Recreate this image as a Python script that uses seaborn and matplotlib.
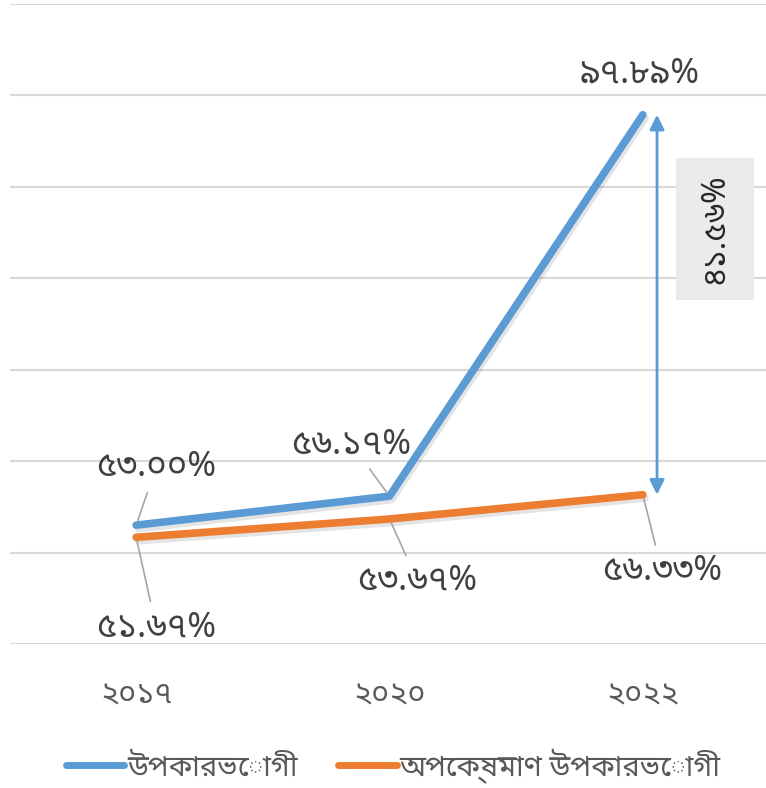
import matplotlib
matplotlib.use("Agg")
import matplotlib.pyplot as plt
import matplotlib.patheffects as pe
from matplotlib.patches import Rectangle
import pandas as pd
import seaborn as sns

# ---- data ----
years = ["২০১৭", "২০২০", "২০২২"]
series_names = ["উপকারভোগী", "অপেক্ষমাণ উপকারভোগী"]
beneficiaries = [53.00, 56.17, 97.89]
waiting = [51.67, 53.67, 56.33]

colors = ["#5b9bd5", "#ed7d31"]

BN_DIGITS = str.maketrans("0123456789", "০১২৩৪৫৬৭৮৯")


def bn_pct(v):
    return f"{v:.2f}".translate(BN_DIGITS) + "%"


df = pd.DataFrame({
    "pos": list(range(len(years))) * 2,
    "value": beneficiaries + waiting,
    "series": [series_names[0]] * len(years) + [series_names[1]] * len(years),
})

sns.set_theme(style="white")
FONT = ["Noto Sans Bengali", "DejaVu Sans"]
plt.rcParams["font.family"] = FONT

fig = plt.figure(figsize=(7.66, 7.88), dpi=100)
ax = fig.add_axes([9.5 / 766, 1 - 644 / 788, 760 / 766, 640 / 788])

shadow = [pe.SimpleLineShadow(offset=(1.5, -2.5), alpha=0.13, shadow_color="#333333"),
          pe.Normal()]

sns.lineplot(data=df, x="pos", y="value", hue="series", hue_order=series_names,
             palette=colors, linewidth=5.5, ax=ax, legend=False,
             solid_capstyle="round", path_effects=shadow)

ax.set_xlim(-0.5, 2.5)
ax.set_ylim(40, 110)
ax.set_yticks(range(40, 111, 10))
ax.set_yticklabels([])
ax.tick_params(axis="y", length=0)
ax.grid(axis="y", color="#d9d9d9", linewidth=1.5)
ax.set_axisbelow(True)
for s in ax.spines.values():
    s.set_visible(False)

ax.set_xticks(range(len(years)))
ax.set_xticklabels(years, fontsize=22, color="#595959")
ax.tick_params(axis="x", length=0, pad=26)
ax.set_xlabel("")
ax.set_ylabel("")

# data labels with leader lines (offsets in pixels)
label_style = dict(fontsize=25, color="#404040", ha="center", va="center",
                   textcoords="offset pixels")
leader = dict(arrowstyle="-", color="#a6a6a6", lw=1.2, shrinkA=4, shrinkB=3)

blue_offsets = [(20, 58), (-38, 52), (-3, 41)]
orange_offsets = [(20, -90), (28, -62), (19, -76)]

for i, (v, off) in enumerate(zip(beneficiaries, blue_offsets)):
    props = leader if i < 2 else None
    ax.annotate(bn_pct(v), xy=(i, v), xytext=off, arrowprops=props, **label_style)
for i, (v, off) in enumerate(zip(waiting, orange_offsets)):
    ax.annotate(bn_pct(v), xy=(i, v), xytext=off, arrowprops=leader, **label_style)

# gap arrow between the two series in the last year
gap_x = 2.056
ax.annotate("", xy=(gap_x, beneficiaries[-1]), xytext=(gap_x, waiting[-1]),
            arrowprops=dict(arrowstyle="<|-|>", color=colors[0], lw=2,
                            mutation_scale=22, shrinkA=0, shrinkB=0))
ax.add_patch(Rectangle((2.131, 77.62), 0.308, 15.54, facecolor="#ebebeb",
                       edgecolor="none", zorder=3))
ax.text(2.285, 85.39, bn_pct(beneficiaries[-1] - waiting[-1]), rotation=90,
        fontsize=23, color="#262626", ha="center", va="center", zorder=4)

# legend
handles = [plt.Line2D([], [], color=c, lw=5, solid_capstyle="round") for c in colors]
fig.legend(handles, series_names, loc="center", bbox_to_anchor=(393 / 766, 1 - 766 / 788),
           ncol=2, frameon=False, fontsize=21, handlelength=2.0, handletextpad=0.1,
           columnspacing=1.4, labelcolor="#595959")

fig.savefig("out.png", dpi=100)
